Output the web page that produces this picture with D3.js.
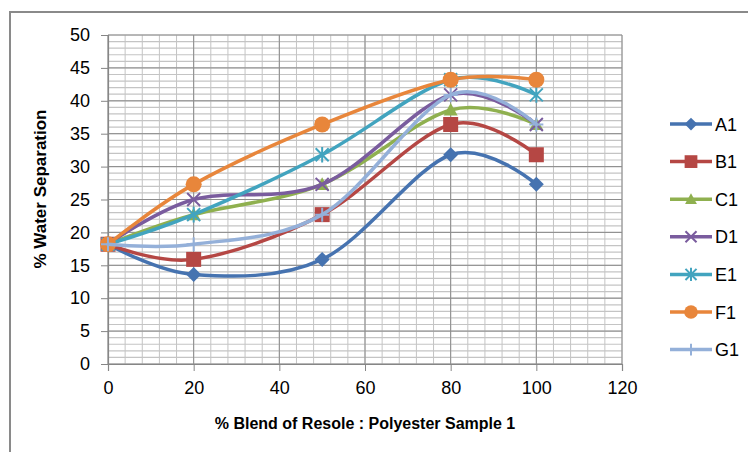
<!DOCTYPE html>
<html>
<head>
<meta charset="utf-8">
<script src="https://cdn.jsdelivr.net/npm/d3@7"></script>
<style>
  body { margin: 0; background: #fff; }
  svg { display: block; font-family: "Liberation Sans", Arial, sans-serif; }
</style>
</head>
<body>
<div class="chart"></div>
<script>
// blend % (x) and water separation % per sample
var blend = [0, 20, 50, 80, 100];
var seriesNames = ["A1", "B1", "C1", "D1", "E1", "F1", "G1"];
var A1 = [18.2, 13.6, 15.9, 31.8, 27.3];
var B1 = [18.2, 15.9, 22.7, 36.4, 31.8];
var C1 = [18.2, 22.7, 27.3, 38.6, 36.4];
var D1 = [18.2, 25.0, 27.3, 40.9, 36.4];
var E1 = [18.2, 22.7, 31.8, 43.2, 40.9];
var F1 = [18.2, 27.3, 36.4, 43.2, 43.2];
var G1 = [18.2, 18.2, 22.7, 40.9, 36.4];
var xTicks = [0, 20, 40, 60, 80, 100, 120];
var yTicks = [0, 5, 10, 15, 20, 25, 30, 35, 40, 45, 50];

var seriesValues = [A1, B1, C1, D1, E1, F1, G1];
var colors = ["#4673b0", "#b54744", "#8fb04f", "#7a5c9e", "#42a4bf", "#e8863b", "#94b0d9"];
var markers = ["diamond", "square", "triangle", "x", "star", "circle", "plus"];

var W = 748, H = 452;
var margin = {left: 108, top: 35, right: 126, bottom: 88};

var svg = d3.select(".chart").append("svg")
  .attr("width", W)
  .attr("height", H);

// outer chart frame
svg.append("rect")
  .attr("x", 10).attr("y", 12)
  .attr("width", 760).attr("height", 470)
  .attr("fill", "none")
  .attr("stroke", "#8a8a8a")
  .attr("stroke-width", 2);

var x = d3.scaleLinear().domain([0, 120]).range([margin.left, W - margin.right]);
var y = d3.scaleLinear().domain([0, 50]).range([H - margin.bottom, margin.top]);

//minor grid
var grid = svg.append("g");
grid.selectAll(".vminor")
  .data(d3.range(0, 121, 4))
  .enter().append("line")
  .attr("x1", function(d){ return x(d); })
  .attr("x2", function(d){ return x(d); })
  .attr("y1", y(0)).attr("y2", y(50))
  .attr("stroke", "#c4c4c4").attr("stroke-width", 1);
grid.selectAll(".hminor")
  .data(d3.range(0, 51, 1))
  .enter().append("line")
  .attr("x1", x(0)).attr("x2", x(120))
  .attr("y1", function(d){ return y(d); })
  .attr("y2", function(d){ return y(d); })
  .attr("stroke", "#c4c4c4").attr("stroke-width", 1.2);

//major grid
grid.selectAll(".vmajor")
  .data(xTicks)
  .enter().append("line")
  .attr("x1", function(d){ return x(d); })
  .attr("x2", function(d){ return x(d); })
  .attr("y1", y(0)).attr("y2", y(50))
  .attr("stroke", "#8c8c8c").attr("stroke-width", 1);
grid.selectAll(".hmajor")
  .data(yTicks)
  .enter().append("line")
  .attr("x1", x(0)).attr("x2", x(120))
  .attr("y1", function(d){ return y(d); })
  .attr("y2", function(d){ return y(d); })
  .attr("stroke", "#8c8c8c").attr("stroke-width", 1);

// axes
var xAxis = d3.axisBottom(x).tickValues(xTicks).tickSize(7).tickPadding(10);
var yAxis = d3.axisLeft(y).tickValues(yTicks).tickSize(7).tickPadding(11);

var gx = svg.append("g")
  .attr("transform", "translate(0," + y(0) + ")")
  .call(xAxis);
var gy = svg.append("g")
  .attr("transform", "translate(" + x(0) + ",0)")
  .call(yAxis);

[gx, gy].forEach(function(g){
  g.select(".domain").attr("stroke", "#868686").attr("stroke-width", 1.2);
  g.selectAll(".tick line").attr("stroke", "#868686");
  g.selectAll(".tick text")
    .attr("fill", "#000")
    .style("font-size", "18px")
    .style("font-family", "'Liberation Sans', Arial, sans-serif");
});

// axis titles
svg.append("text")
  .attr("x", (x(0) + x(120)) / 2)
  .attr("y", 429)
  .attr("text-anchor", "middle")
  .style("font-size", "16px")
  .style("font-weight", "bold")
  .text("% Blend of Resole : Polyester Sample 1");

svg.append("text")
  .attr("transform", "translate(46,189) rotate(-90)")
  .attr("text-anchor", "middle")
  .style("font-size", "17px")
  .style("font-weight", "bold")
  .text("% Water Separation");

// marker drawing
var drawMarker = function(g, type, color, cx, cy, scale){
  var s = scale || 1;
  if (type == "diamond"){
    var r = 7.5 * s;
    g.append("path")
      .attr("d", "M" + cx + "," + (cy - r) + "L" + (cx + r) + "," + cy + "L" + cx + "," + (cy + r) + "L" + (cx - r) + "," + cy + "Z")
      .attr("fill", color);
  } else if (type == "square"){
    var h = 7.5 * s;
    g.append("rect")
      .attr("x", cx - h).attr("y", cy - h)
      .attr("width", 2 * h).attr("height", 2 * h)
      .attr("fill", color);
  } else if (type == "triangle"){
    var t = 7 * s;
    g.append("path")
      .attr("d", "M" + cx + "," + (cy - t) + "L" + (cx + t) + "," + (cy + t * 0.8) + "L" + (cx - t) + "," + (cy + t * 0.8) + "Z")
      .attr("fill", color);
  } else if (type == "circle"){
    g.append("circle")
      .attr("cx", cx).attr("cy", cy)
      .attr("r", 8 * s)
      .attr("fill", color);
  } else if (type == "x"){
    var a = 6.5 * s;
    g.append("path")
      .attr("d", "M" + (cx - a) + "," + (cy - a) + "L" + (cx + a) + "," + (cy + a) + "M" + (cx + a) + "," + (cy - a) + "L" + (cx - a) + "," + (cy + a))
      .attr("stroke", color).attr("stroke-width", 2).attr("fill", "none");
  } else if (type == "star"){
    var b = 6.5 * s;
    g.append("path")
      .attr("d", "M" + (cx - b) + "," + (cy - b) + "L" + (cx + b) + "," + (cy + b) + "M" + (cx + b) + "," + (cy - b) + "L" + (cx - b) + "," + (cy + b) + "M" + cx + "," + (cy - b * 1.2) + "L" + cx + "," + (cy + b * 1.2))
      .attr("stroke", color).attr("stroke-width", 2).attr("fill", "none");
  } else if (type == "plus"){
    var p = 7 * s;
    g.append("path")
      .attr("d", "M" + (cx - p) + "," + cy + "L" + (cx + p) + "," + cy + "M" + cx + "," + (cy - p) + "L" + cx + "," + (cy + p))
      .attr("stroke", color).attr("stroke-width", 2).attr("fill", "none");
  }
};

// series lines + markers
var line = d3.line()
  .x(function(d){ return x(d.x); })
  .y(function(d){ return y(d.y); })
  .curve(d3.curveCatmullRom.alpha(0));

seriesNames.forEach(function(name, i){
  var pts = blend.map(function(b, j){ return {x: b, y: seriesValues[i][j]}; });
  var g = svg.append("g").attr("class", "series");
  g.append("path")
    .datum(pts)
    .attr("d", line)
    .attr("fill", "none")
    .attr("stroke", colors[i])
    .attr("stroke-width", 3.5)
    .attr("stroke-linecap", "round");
  pts.forEach(function(p){
    drawMarker(g, markers[i], colors[i], x(p.x), y(p.y), 1);
  });
});

// legend
var legend = svg.append("g");
seriesNames.forEach(function(name, i){
  var ly = 124 + i * 37.6;
  legend.append("line")
    .attr("x1", 670).attr("x2", 712)
    .attr("y1", ly).attr("y2", ly)
    .attr("stroke", colors[i])
    .attr("stroke-width", 3.5);
  drawMarker(legend, markers[i], colors[i], 691, ly, 0.85);
  legend.append("text")
    .attr("x", 715)
    .attr("y", ly + 6.5)
    .style("font-size", "18px")
    .text(name);
});
</script>
</body>
</html>
